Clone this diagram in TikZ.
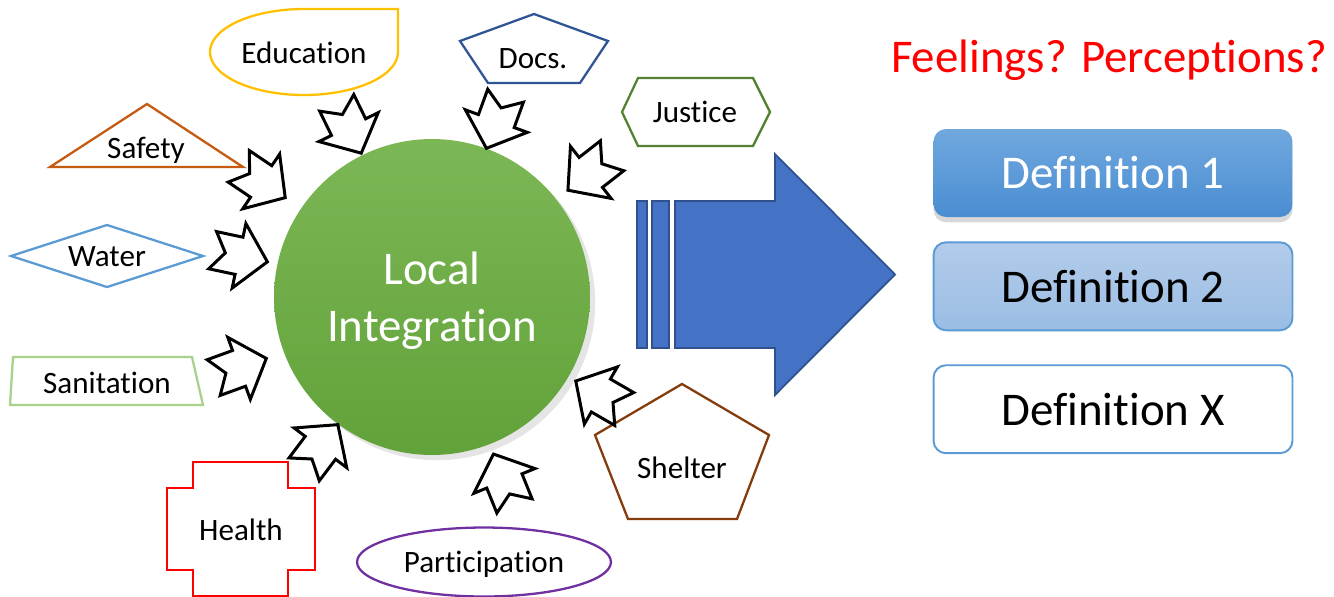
\documentclass[tikz,border=0pt]{standalone}
\usepackage{fontspec}
\setmainfont{Carlito}[Ligatures=NoCommon, Contextuals=NoAlternate]
\usetikzlibrary{shapes.geometric, positioning, shadows}

\definecolor{edugold}{HTML}{FFC000}
\definecolor{docsblue}{HTML}{2F5597}
\definecolor{justgreen}{HTML}{548235}
\definecolor{safeorange}{HTML}{C55A11}
\definecolor{waterblue}{HTML}{5B9BD5}
\definecolor{sanigreen}{HTML}{A9D18E}
\definecolor{partpurple}{HTML}{7030A0}
\definecolor{shelterbrown}{HTML}{843C0C}
\definecolor{arrowfill}{HTML}{4472C4}
\definecolor{arrowline}{HTML}{2F528F}
\definecolor{circtop}{HTML}{7CB755}
\definecolor{circbot}{HTML}{62A23A}
\definecolor{defonetop}{HTML}{70A8DE}
\definecolor{defonebot}{HTML}{4A8DD2}
\definecolor{deftwotop}{HTML}{B2CCEA}
\definecolor{deftwobot}{HTML}{9BBDE4}

\begin{document}
\begin{tikzpicture}[x=0.02cm, y=-0.02cm,
        txt/.style = {
            font = \fontsize{17.7}{21}\selectfont,
            text height = 11.4pt,
            text depth = 0pt,
            inner sep = 0pt
        },
        outline/.style = {
            line width = 1.3pt,
            line join = miter
        },
        defbox/.style = {
            rectangle,
            rounded corners = 0.25cm,
            minimum width = 7.18cm,
            minimum height = 1.76cm,
            font = \fontsize{26.7}{32}\selectfont
        },
        notcharrow/.pic = {
            \draw[line width=1.7pt, fill=white, line join=miter]
                (28,0) -- (-1,33) -- (-1,19) -- (-28,19) -- (-15,0)
                -- (-28,-19) -- (-1,-19) -- (-1,-33) -- cycle;
        }
    ]
    \useasboundingbox (0,0) rectangle (1334,596);
    \fill[white] (0,0) rectangle (1334,596);

    % centre
    \node (integration) [circle, minimum size=6.32cm, inner sep=0pt,
        top color=circtop, bottom color=circbot,
        drop shadow={shadow xshift=3pt, shadow yshift=-3pt, opacity=0.2}]
        at (432,297) {};
    \node (integrationlabel) [text=white, align=center, yshift=-2.3pt,
        font=\fontsize{26.7}{32.4}\selectfont] at (integration) {Local\\Integration};

    % surrounding needs
    \draw[outline, draw=edugold] (304,9) -- (398,9) -- (398,52)
        arc[start angle=0, end angle=270, x radius=94, y radius=43] -- cycle;
    \node (education) [txt] at (304,53) {Education};

    \draw[outline, draw=docsblue] (534,14) -- (608,41) -- (580,83) -- (488,83) -- (460,41) -- cycle;
    \node (docs) [txt] at (533,58) {Docs.};

    \draw[outline, draw=justgreen] (622,112) -- (638,78) -- (753,78) -- (770,112) -- (753,146) -- (638,146) -- cycle;
    \node (justice) [txt] at (695,112) {Justice};

    \draw[outline, draw=safeorange] (147,104) -- (243,167) -- (50,167) -- cycle;
    \node (safety) [txt] at (146,148) {Safety};

    \node (water) [txt, diamond, shape aspect=3, draw=waterblue, outline,
        minimum width=3.86cm, minimum height=1.26cm] at (107,256) {Water};

    \draw[outline, draw=sanigreen] (13,357) -- (192,357) -- (203,405) -- (10,405) -- cycle;
    \node (sanitation) [txt] at (107,383) {Sanitation};

    \draw[outline, draw=red] (193,462) -- (288,462) -- (288,488) -- (315,488) -- (315,570)
        -- (288,570) -- (288,596) -- (193,596) -- (193,570) -- (167,570) -- (167,488)
        -- (193,488) -- cycle;
    \node (health) [txt] at (241,530) {Health};

    \node (participation) [txt, ellipse, draw=partpurple, outline,
        minimum width=5.08cm, minimum height=1.38cm] at (484,562) {Participation};

    \draw[outline, draw=shelterbrown] (682,384) -- (769,435) -- (737,519) -- (628,519) -- (595,435) -- cycle;
    \node (shelter) [txt] at (682,468) {Shelter};

    % small arrows into the centre
    \pic[rotate=-64] at (349,128) {notcharrow};
    \pic[rotate=-110] at (496,122) {notcharrow};
    \pic[rotate=-142] at (590,173) {notcharrow};
    \pic[rotate=-34] at (262,182) {notcharrow};
    \pic[rotate=-12] at (240,256) {notcharrow};
    \pic[rotate=20] at (240,368) {notcharrow};
    \pic[rotate=53] at (321,447) {notcharrow};
    \pic[rotate=112] at (504,480) {notcharrow};
    \pic[rotate=150] at (600,395) {notcharrow};

    % striped arrow
    \draw[fill=arrowfill, draw=arrowline, line width=1pt] (637,201) rectangle (647,348);
    \draw[fill=arrowfill, draw=arrowline, line width=1pt] (652,201) rectangle (669,348);
    \draw[fill=arrowfill, draw=arrowline, line width=1pt] (675,201) -- (775,201) -- (775,154)
        -- (895,274.5) -- (775,395) -- (775,348) -- (675,348) -- cycle;

    % definitions
    \node (question) [text=red, font=\fontsize{26.7}{32}\selectfont, text height=17.2pt,
        text depth=0pt, inner sep=0pt] at (1109,57) {Feelings? Perceptions?};
    \node (def1) [defbox, top color=defonetop, bottom color=defonebot, text=white,
        drop shadow={shadow xshift=0pt, shadow yshift=-3pt, opacity=0.3}]
        at (1113,173) {Definition 1};
    \node (def2) [defbox, top color=deftwotop, bottom color=deftwobot, draw=waterblue,
        line width=1.1pt, below=0.48cm of def1] {Definition 2};
    \node (defx) [defbox, fill=white, draw=waterblue, line width=1.1pt,
        below=0.66cm of def2] {Definition X};
\end{tikzpicture}
\end{document}
